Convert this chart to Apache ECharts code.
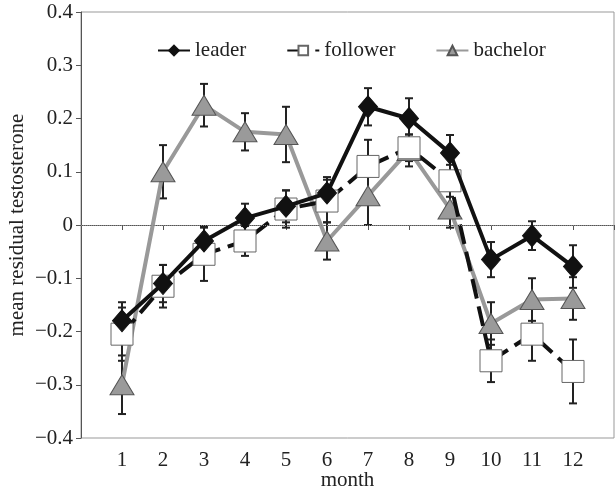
<!DOCTYPE html>
<html><head><meta charset="utf-8">
<script src="https://cdn.jsdelivr.net/npm/echarts@6/dist/echarts.min.js"></script>
<style>html,body{margin:0;padding:0;background:#fff}#c{width:616px;height:495px}</style>
</head><body><div id="c"></div>
<script>
const months = [1,2,3,4,5,6,7,8,9,10,11,12];
const yTicks = [-0.4,-0.3,-0.2,-0.1,0,0.1,0.2,0.3,0.4];
const leader = [-0.18,-0.11,-0.03,0.013,0.035,0.06,0.222,0.20,0.135,-0.065,-0.02,-0.078];
const leaderErr = [0.035,0.035,0.028,0.027,0.03,0.03,0.035,0.038,0.034,0.033,0.027,0.04];
const follower = [-0.205,-0.115,-0.055,-0.03,0.03,0.045,0.11,0.145,0.083,-0.255,-0.205,-0.275];
const followerErr = [0.05,0.04,0.05,0.028,0.035,0.04,0.05,0.025,0.03,0.04,0.05,0.06];
const bachelor = [-0.30,0.10,0.225,0.175,0.17,-0.03,0.055,0.14,0.03,-0.185,-0.14,-0.138];
const bachelorErr = [0.055,0.05,0.04,0.035,0.052,0.035,0.055,0.03,0.035,0.04,0.04,0.04];

const font = 'Liberation Serif';
const fs = 21;
function pts(v){ return months.map((m,i)=>[m,v[i]]); }
function errs(v,e){ return months.map((m,i)=>[m,v[i]-e[i],v[i]+e[i]]); }
function errSeries(v,e){
  return {
    type:'custom', z:1, silent:true,
    renderItem:function(params,api){
      const x=api.value(0), lo=api.coord([x,api.value(1)]), hi=api.coord([x,api.value(2)]);
      const w=4;
      const st={stroke:'#222',lineWidth:2};
      return {type:'group',children:[
        {type:'line',shape:{x1:lo[0],y1:lo[1],x2:hi[0],y2:hi[1]},style:st},
        {type:'line',shape:{x1:lo[0]-w,y1:lo[1],x2:lo[0]+w,y2:lo[1]},style:st},
        {type:'line',shape:{x1:hi[0]-w,y1:hi[1],x2:hi[0]+w,y2:hi[1]},style:st}
      ]};
    },
    encode:{x:0,y:[1,2]},
    data:errs(v,e)
  };
}
const chart = echarts.init(document.getElementById('c'));
chart.setOption({
  animation:false,
  grid:{left:81,top:12,right:2,bottom:57,show:true,borderColor:'#999',borderWidth:1,
        containLabel:false,outerBoundsMode:'none'},
  legend:{
    top:35,left:152,itemGap:40,itemWidth:32,itemHeight:12,
    textStyle:{fontFamily:font,fontSize:fs,color:'#222'},
    data:['leader','follower','bachelor']
  },
  xAxis:{
    type:'value',min:0,max:13,interval:1,
    name:'month',nameLocation:'middle',nameGap:32,nameMoveOverlap:false,
    nameTextStyle:{fontFamily:font,fontSize:fs,color:'#222'},
    axisLine:{lineStyle:{color:'#555',width:1}},
    axisTick:{show:true,length:5,lineStyle:{color:'#555'}},
    axisLabel:{fontFamily:font,fontSize:fs,color:'#222',margin:12,
      formatter:function(v){return (v>=1&&v<=12)?String(v):'';}},
    splitLine:{show:false}
  },
  yAxis:{
    type:'value',min:-0.4,max:0.4,interval:0.1,
    name:'mean residual testosterone',nameLocation:'middle',nameGap:53,nameMoveOverlap:false,
    nameTextStyle:{fontFamily:font,fontSize:fs,color:'#222'},
    axisLine:{show:true,lineStyle:{color:'#555',width:1}},
    axisTick:{show:true,length:5,lineStyle:{color:'#555'}},
    axisLabel:{fontFamily:font,fontSize:fs,color:'#222',margin:8,
      formatter:function(v){const r=Math.round(v*10)/10; return r===0?'0':(r<0?'\u2212'+Math.abs(r).toFixed(1):r.toFixed(1));}},
    splitLine:{show:false}
  },
  series:[
    errSeries(leader,leaderErr),
    errSeries(follower,followerErr),
    errSeries(bachelor,bachelorErr),
    {name:'bachelor',type:'line',z:3,data:pts(bachelor),
     lineStyle:{color:'#999',width:4},
     symbol:'triangle',symbolSize:[24,20],
     itemStyle:{color:'#9a9a9a',borderColor:'#555',borderWidth:1},
     markLine:{silent:true,symbol:'none',label:{show:false},
       lineStyle:{color:'#888',type:'dotted',width:1},data:[{yAxis:0}]}},
    {name:'follower',type:'line',z:4,data:pts(follower),
     lineStyle:{color:'#111',width:4,type:[20,8]},
     symbol:'rect',symbolSize:22,
     itemStyle:{color:'#fff',borderColor:'#666',borderWidth:1}},
    {name:'leader',type:'line',z:5,data:pts(leader),
     lineStyle:{color:'#111',width:4},
     symbol:'diamond',symbolSize:[19,22],
     itemStyle:{color:'#111',borderColor:'#111',borderWidth:1}}
  ]
});
</script></body></html>
